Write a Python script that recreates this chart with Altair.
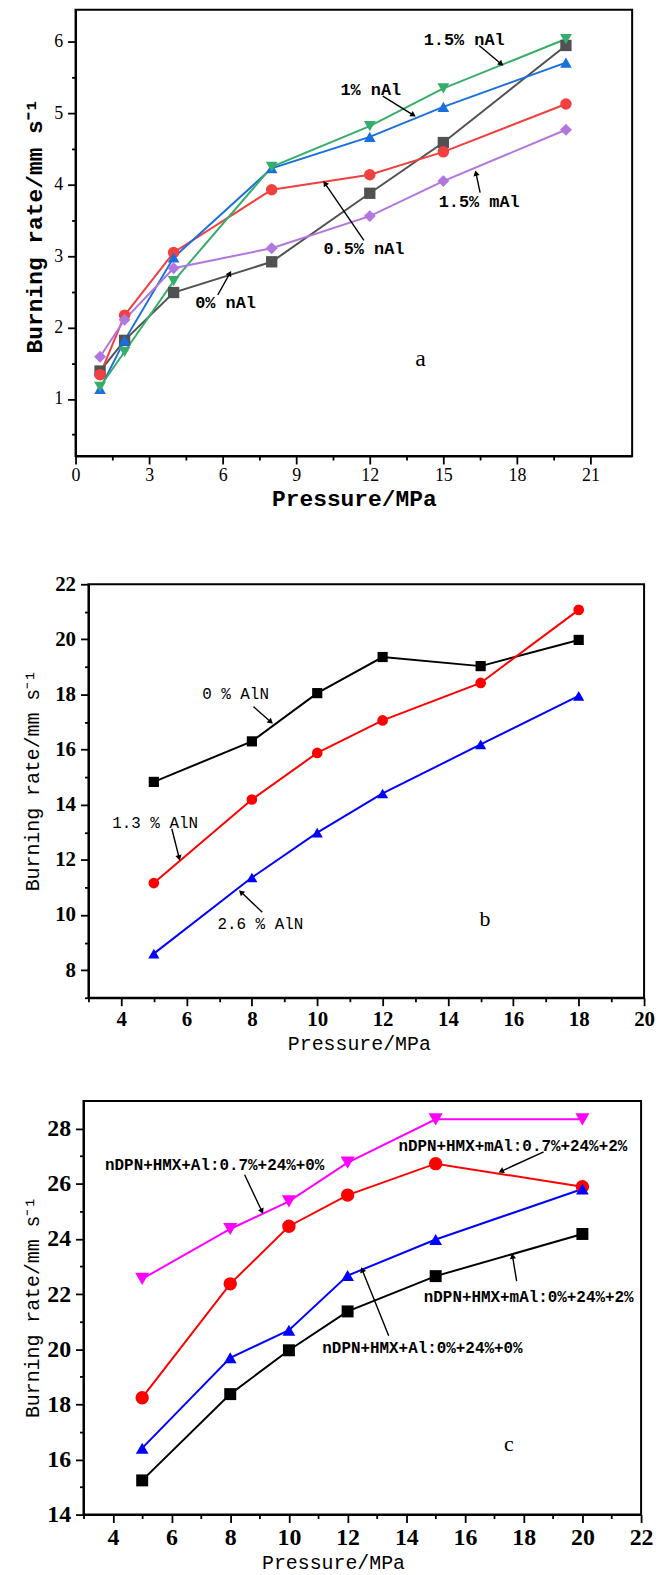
import math
import altair as alt
import pandas as pd

# ---------------- data ----------------
# Panel a
a_x = [1, 2, 4, 8, 12, 15, 20]
a_names = ["0% nAl", "0.5% nAl", "1% nAl", "1.5% nAl", "1.5% mAl"]
a_0 = [1.39, 1.82, 2.49, 2.92, 3.88, 4.59, 5.95]
a_05 = [1.34, 2.17, 3.05, 3.93, 4.14, 4.46, 5.13]
a_1 = [1.14, 1.82, 2.98, 4.23, 4.67, 5.09, 5.71]
a_15 = [1.17, 1.66, 2.65, 4.25, 4.82, 5.35, 6.04]
a_15m = [1.59, 2.11, 2.83, 3.11, 3.56, 4.05, 4.77]
a_colors = ["#515151", "#F14040", "#1A6FDF", "#37AD6B", "#B177DE"]
a_shapes = ["square", "circle", "triangle-up", "triangle-down", "diamond"]
a_sizes = [130, 145, 190, 190, 175]
a_xticks = [0, 1.5, 3, 4.5, 6, 7.5, 9, 10.5, 12, 13.5, 15, 16.5, 18, 19.5, 21]
a_yticks = [0.5, 1, 1.5, 2, 2.5, 3, 3.5, 4, 4.5, 5, 5.5, 6]
a_labels = ["1.5% nAl", "1% nAl", "0.5% nAl", "0% nAl", "1.5% mAl"]
a_lab_x = [15.85, 12.04, 11.76, 6.12, 16.46]
a_lab_y = [6.03, 5.32, 3.10, 2.34, 3.76]
a_arr_tail_x = [16.46, 12.53, 11.76, 5.80, 16.50]
a_arr_tail_y = [5.95, 5.24, 3.22, 2.455, 3.89]
a_arr_head_x = [17.47, 13.90, 10.09, 6.36, 16.30]
a_arr_head_y = [5.66, 4.95, 4.06, 2.80, 4.21]

# Panel b
b_x = [5, 8, 10, 12, 15, 18]
b_names = ["0 % AlN", "1.3 % AlN", "2.6 % AlN"]
b_0 = [14.83, 16.30, 18.05, 19.36, 19.03, 19.98]
b_13 = [11.16, 14.19, 15.88, 17.06, 18.42, 21.07]
b_26 = [8.60, 11.36, 12.99, 14.41, 16.19, 17.95]
b_colors = ["#000000", "#FF0000", "#0000FF"]
b_shapes = ["square", "circle", "triangle-up"]
b_sizes = [105, 125, 200]
b_xticks = list(range(3, 21))
b_yticks = list(range(7, 23))
b_labels = ["0 % AlN", "1.3 % AlN", "2.6 % AlN"]
b_lab_x = [7.50, 5.04, 8.26]
b_lab_y = [18.0, 13.35, 9.67]
b_arr_tail_x = [8.05, 5.55, 8.32]
b_arr_tail_y = [17.56, 13.13, 10.10]
b_arr_head_x = [8.66, 5.80, 7.59]
b_arr_head_y = [16.92, 11.95, 10.92]

# Panel c
c_x = [5, 8, 10, 12, 15, 20]
c_names = ["nDPN+HMX+Al:0.7%+24%+0%", "nDPN+HMX+mAl:0.7%+24%+2%",
           "nDPN+HMX+Al:0%+24%+0%", "nDPN+HMX+mAl:0%+24%+2%"]
c_A07 = [22.55, 24.36, 25.36, 26.77, 28.34, 28.34]
c_m07 = [18.24, 22.37, 24.46, 25.59, 26.73, 25.89]
c_A0 = [16.41, 19.69, 20.69, 22.67, 23.98, 25.81]
c_m0 = [15.24, 18.37, 19.96, 21.37, 22.65, 24.18]
c_colors = ["#FF00FF", "#FF0000", "#0000FF", "#000000"]
c_shapes = ["triangle-down", "circle", "triangle-up", "square"]
c_sizes = [200, 145, 200, 130]
c_xticks = list(range(3, 23))
c_yticks = list(range(14, 29))
c_labels = c_names
c_lab_x = [7.47, 17.63, 14.55, 18.17]
c_lab_y = [26.69, 27.38, 20.06, 21.90]
c_arr_tail_x = [8.49, 18.68, 13.40, 17.76]
c_arr_tail_y = [26.33, 27.16, 20.49, 22.47]
c_arr_head_x = [9.13, 17.12, 12.45, 17.60]
c_arr_head_y = [24.89, 26.40, 23.00, 23.50]

Y_TITLE = "Burning rate/mm s\u207b\u00b9"
X_TITLE = "Pressure/MPa"
MONO = "Liberation Mono"
SERIF = "Liberation Serif"


def series_df(xs, names, ys_list):
    rows = []
    for n, ys in zip(names, ys_list):
        for x, y in zip(xs, ys):
            rows.append({"x": x, "y": y, "s": n})
    return pd.DataFrame(rows)


def arrow_df(tx, ty, hx, hy, sx, sy):
    rows = []
    for a, b, c, d in zip(tx, ty, hx, hy):
        dxp = (c - a) * sx
        dyp = -(d - b) * sy
        L = math.hypot(dxp, dyp)
        ux, uy = dxp / L, dyp / L
        ang = math.degrees(math.atan2(ux, -uy)) % 360
        hcx = c - ux * 3.5 / sx
        hcy = d + uy * 3.5 / sy
        rows.append({"x1": a, "y1": b, "x2": hcx, "y2": hcy, "ang": ang})
    return pd.DataFrame(rows)


def panel(df, names, colors, shapes, sizes, xdom, ydom, w, h, xticks, yticks,
          xmaj, ymaj, xlabtest, ylabtest, tick_font_size, tick_weight, lab_pad,
          title_size, title_weight, ytitle_x, ytitle_y, xtitle_x, xtitle_y,
          lab_df, lab_size, lab_weight, arr_df, letter, letter_x, letter_y, letter_size,
          top_extra_px=0):
    xs = alt.Scale(domain=xdom, nice=False, zero=False)
    ys = alt.Scale(domain=ydom, nice=False, zero=False)
    common = dict(
        domainColor="black", domainWidth=2, tickColor="black", tickWidth=1.8,
        labelFont=SERIF, labelFontSize=tick_font_size, labelFontWeight=tick_weight,
        labelColor="black", labelOverlap=False, labelFlush=False, grid=False,
        titleFont=MONO, titleFontSize=title_size, titleFontWeight=title_weight,
        titleColor="black", titleAlign="center", titleBaseline="middle",
    )
    xaxis = alt.Axis(
        values=xticks, title=X_TITLE,
        labelExpr="(%s) ? format(datum.value, 'd') : ''" % xlabtest,
        tickSize={"condition": {"test": xmaj, "value": 8}, "value": 4},
        labelPadding=lab_pad, titleX=xtitle_x, titleY=xtitle_y, **common)
    yaxis = alt.Axis(
        values=yticks, title=Y_TITLE,
        labelExpr="(%s) ? format(datum.value, 'd') : ''" % ylabtest,
        tickSize={"condition": {"test": ymaj, "value": 8}, "value": 4},
        labelPadding=lab_pad + 2, titleX=ytitle_x, titleY=ytitle_y, titleAngle=270,
        **common)

    def X(f):
        return alt.X(f, type="quantitative", scale=xs, axis=xaxis)

    def Y(f):
        return alt.Y(f, type="quantitative", scale=ys, axis=yaxis)

    color = alt.Color("s:N", scale=alt.Scale(domain=names, range=colors), legend=None)
    shape = alt.Shape("s:N", scale=alt.Scale(domain=names, range=shapes), legend=None)
    size = alt.Size("s:N", scale=alt.Scale(domain=names, range=sizes), legend=None)

    lines = alt.Chart(df).mark_line(strokeWidth=2).encode(
        x=X("x"), y=Y("y"), color=color, detail="s:N", order="x:Q")
    pts = alt.Chart(df).mark_point(filled=True, opacity=1).encode(
        x=X("x"), y=Y("y"), color=color, shape=shape, size=size)
    rules = alt.Chart(arr_df).mark_rule(color="black", strokeWidth=1.4).encode(
        x=X("x1"), y=Y("y1"), x2="x2:Q", y2="y2:Q")
    heads = alt.Chart(arr_df).mark_point(
        shape="triangle-up", filled=True, color="black", opacity=1, size=40).encode(
        x=X("x2"), y=Y("y2"), angle=alt.Angle("ang:Q", scale=None))
    texts = alt.Chart(lab_df).mark_text(
        font=MONO, fontSize=lab_size, fontWeight=lab_weight, color="black",
        align="center", baseline="middle").encode(x=X("x"), y=Y("y"), text="t:N")
    let_df = pd.DataFrame({"x": [letter_x], "y": [letter_y], "t": [letter]})
    letter_t = alt.Chart(let_df).mark_text(
        font=SERIF, fontSize=letter_size, color="black", align="center",
        baseline="middle").encode(x=X("x"), y=Y("y"), text="t:N")
    layers = [lines, pts, rules, heads, texts, letter_t]
    if top_extra_px > 0:
        # invisible marker that only reserves layout room above the frame
        ytop = ydom[1] + top_extra_px * (ydom[1] - ydom[0]) / h
        sp = pd.DataFrame({"x": [xdom[0] + 1], "y": [ytop]})
        layers.append(alt.Chart(sp).mark_point(opacity=0, size=1, clip=False).encode(
            x=X("x"), y=Y("y")))
    return alt.layer(*layers).properties(width=w, height=h)


def spacer(w, h):
    return alt.Chart(pd.DataFrame({"v": [0]})).mark_point(opacity=0, size=1).encode(
        x=alt.value(0), y=alt.value(0)).properties(
        width=w, height=h, view=alt.ViewBackground(stroke="transparent", strokeWidth=0))


# ---- panel a
sa_x, sa_y = 560 / 22.7, 449 / 6.25
dfa = series_df(a_x, a_names, [a_0, a_05, a_1, a_15, a_15m])
laba = pd.DataFrame({"x": a_lab_x, "y": a_lab_y, "t": a_labels})
arra = arrow_df(a_arr_tail_x, a_arr_tail_y, a_arr_head_x, a_arr_head_y, sa_x, sa_y)
pa = panel(dfa, a_names, a_colors, a_shapes, a_sizes, [0, 22.7], [0.2, 6.45], 560, 449,
           a_xticks, a_yticks, "datum.value % 3 === 0", "datum.value % 1 === 0",
           "datum.value % 3 === 0", "datum.value % 1 === 0",
           18, "normal", 3, 23, "bold", -41.5, 217, 280, 43,
           laba, 17, "bold", arra, "a", 14.07, 1.56, 24)

# ---- panel b
sb_x, sb_y = 559 / 17, 416 / 15
dfb = series_df(b_x, b_names, [b_0, b_13, b_26])
labb = pd.DataFrame({"x": b_lab_x, "y": b_lab_y, "t": b_labels})
arrb = arrow_df(b_arr_tail_x, b_arr_tail_y, b_arr_head_x, b_arr_head_y, sb_x, sb_y)
pb = panel(dfb, b_names, b_colors, b_shapes, b_sizes, [3, 20], [7, 22], 559, 416,
           b_xticks, b_yticks, "datum.value % 2 === 0", "datum.value % 2 === 0",
           "datum.value % 2 === 0", "datum.value % 2 === 0",
           21, "bold", 3, 20, "normal", -56, 197, 272, 46,
           labb, 16, "normal", arrb, "b", 15.13, 9.85, 22, top_extra_px=35)

# ---- panel c
sc_x, sc_y = 561 / 19, 416 / 15
dfc = series_df(c_x, c_names, [c_A07, c_m07, c_A0, c_m0])
labc = pd.DataFrame({"x": c_lab_x, "y": c_lab_y, "t": c_labels})
arrc = arrow_df(c_arr_tail_x, c_arr_tail_y, c_arr_head_x, c_arr_head_y, sc_x, sc_y)
pc = panel(dfc, c_names, c_colors, c_shapes, c_sizes, [3, 22], [14, 29], 561, 416,
           c_xticks, c_yticks, "datum.value % 2 === 0 && datum.value > 3", "datum.value % 2 === 0",
           "datum.value % 2 === 0", "datum.value % 2 === 0",
           24, "bold", 3, 20, "normal", -51, 207, 251, 48,
           labc, 16, "bold", arrc, "c", 17.49, 16.56, 22, top_extra_px=9)

row_b = alt.hconcat(spacer(13, 416), pb, spacing=0, bounds="flush")
row_c = alt.hconcat(spacer(8, 416), pc, spacing=0, bounds="flush")

chart = alt.concat(pa, row_b, row_c, columns=1, bounds="full", spacing=36).resolve_scale(
    color="independent", shape="independent", size="independent"
).properties(
    padding={"left": 22, "top": 4, "right": 0, "bottom": 0},
    background="white",
).configure_view(stroke="black", strokeWidth=2)

chart.save("out.html", embed_options={"renderer": "svg", "actions": False})
